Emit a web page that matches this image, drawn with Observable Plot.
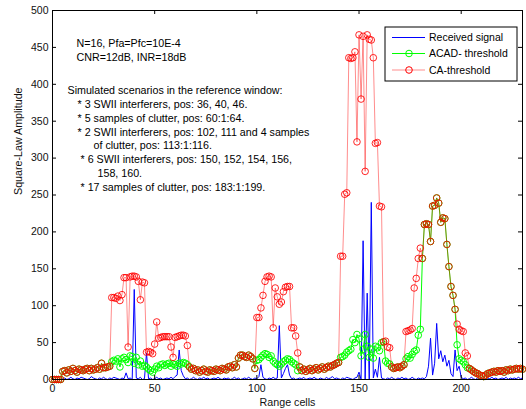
<!DOCTYPE html>
<html><head><meta charset="utf-8">
<script src="https://cdn.jsdelivr.net/npm/d3@7"></script>
<script src="https://cdn.jsdelivr.net/npm/@observablehq/plot@0.6"></script>
<style>
body{margin:0;background:#fff;}
#chart{position:relative;width:526px;height:409px;}
</style></head><body><div id="chart"></div>
<script>
// Range cells 0..230
const received = [
0,0,0,0,0,
1,2,0,1,3,1,0,2,1,3,
2,1,0,1,4,2,1,0,2,1,
3,1,0,2,1,3,2,1,0,2,1,
9,1,2,0,122,
2,1,3,0,1,36,1,2,0,1,
3,1,2,0,1,2,1,3,1,4,
6,40,12,5,1,2,0,1,3,1,
0,2,1,3,1,2,0,1,2,1,
3,1,0,2,1,2,0,1,3,1,
2,0,1,2,1,3,1,0,2,1,4,
20,3,1,0,2,1,3,1,2,
73,2,8,15,20,6,1,2,0,1,
2,1,3,0,1,2,1,3,1,0,
2,1,0,3,1,2,4,1,2,1,
0,2,1,3,2,1,0,2,3,
10,0,188,0,117,0,240,2,14,3,30,2,
1,0,2,1,3,1,0,2,1,
3,1,2,0,1,3,1,0,2,1,2,1,
4,18,56,6,22,76,28,39,24,33,18,26,8,4,40,12,18,3,
1,2,0,1,3,1,0,2,1,2,
1,0,2,1,3,1,2,0,1,2,
1,3,0,2,1,2,1,3,1,2
];
const acadThreshold = [
0,0,0,0,0, 11,12,9,13,11, 15,12,10,14,13, 12,14,15,12,15, 13,14,16,14,22, 16,16,17,18,
24,26,25,28,17, 28,30,27,23,32, 31,22,30,20,25, 18,19,17,14,12, 10,14,18,16,20,
21,19,21,22,18, 21,20,18,22,21, 23,22,20,17,14, 15,12,13,10,12, 14,11,10,13,12,
11,14,13,12,15, 14,13,17,18,16, 20,17,29,33,33, 31,30,33,31,28, 15,26,27,30,33,
35,34,30,32,25, 22,20,18,21,24, 26,28,27,24,22, 20,12,17,12,14, 11,13,15,12,14,
16,13,15,17,14, 16,18,17,19,20, 22,23,30,31,33, 37,39,41,54,50, 61,55,32,41,61,
45,30,41,29,45, 43,39,50,51,25, 22,21,17,15,16, 17,16,18,20,28, 31,29,34,38,40,
60,68,164,210,211, 210,187,235,236,246, 239,213,219,218,183, 153,126,114,95,47,
28,26,24,20,16, 15,13,11,9,8, 6,5,4,6,8, 9,10,11,10,12, 11,12,10,13,12,
14,13,14,15,14, 15,14
];
const caThreshold = [
0,0,0,0,0, 11,12,9,13,11, 15,12,10,14,13, 12,14,15,12,15, 13,14,16,14,22, 16,16,17,18,
111,111,110,113,107, 115,138,138,44,139, 140,140,139,133,108, 132,131,37,38,37, 35,48,78,56,57,
58,58,58,58,44, 30,57,58,59,60, 60,59,46,17,14, 15,12,13,10,12, 14,11,10,13,12,
11,14,13,12,15, 14,13,17,18,16, 20,17,29,33,33, 31,30,33,31,28, 15,84,84,97,114,
133,139,140,139,70, 124,112,102,105,119, 125,126,126,70,70, 59,36,17,12,14, 11,13,15,12,14,
16,13,15,17,14, 16,18,17,19,20, 22,23,167,167,251, 253,436,435,436,444, 322,467,380,465,282,
467,461,460,436,320, 321,235,234,51,52, 44,43,17,15,16, 17,16,18,20,65, 66,67,69,124,137,
164,178,164,210,211, 210,187,235,236,246, 239,213,219,218,183, 153,126,114,95,75,
68,66,65,36,32, 15,13,11,9,8, 6,5,4,6,8, 9,10,11,10,12, 11,12,10,13,12,
14,13,14,15,14, 15,14
];
const xTicks = [0, 50, 100, 150, 200];
const yTicks = [0, 50, 100, 150, 200, 250, 300, 350, 400, 450, 500];
const seriesNames = ["Received signal", "ACAD- threshold", "CA-threshold"];
const noteLines = [
  "N=16, Pfa=Pfc=10E-4",
  "CNR=12dB, INR=18dB",
  "Simulated scenarios in the reference window:",
  "* 3 SWII interferers, pos: 36, 40, 46.",
  "* 5 samples of clutter, pos: 60:1:64.",
  "* 2 SWII interferers, pos: 102, 111 and 4 samples",
  "of clutter, pos: 113:1:116.",
  "* 6 SWII interferers, pos: 150, 152, 154, 156,",
  "158, 160.",
  "* 17 samples of clutter, pos: 183:1:199."
];
const xLabel = "Range cells";
const yLabel = "Square-Law Amplitude";

const toRows = arr => arr.map((v, i) => ({cell: i, v}));
const rowsRx = toRows(received), rowsAcad = toRows(acadThreshold), rowsCa = toRows(caThreshold);

// layout of the note lines (pixel offsets from the plot's top-left corner)
const noteLayout = [[24,33],[24,47],[15,80],[25,94],[25,108],[25,122],[41,135],[28,149],[45,163],[28,177]];

const FONT = "'Liberation Sans', Arial, Helvetica, sans-serif";
const BLUE = "#0000ff", GREEN = "#00ff00", RED = "#ff0000";

const plot = Plot.plot({
  width: 526, height: 409,
  marginLeft: 52, marginRight: 4, marginTop: 10, marginBottom: 30,
  x: {domain: [0, 230]},
  y: {domain: [0, 500]},
  style: {fontFamily: FONT, fontSize: "10.5px", background: "white", color: "#111"},
  marks: [
    Plot.line(rowsRx, {x: "cell", y: "v", stroke: BLUE, strokeWidth: 1}),
    Plot.line(rowsAcad, {x: "cell", y: "v", stroke: GREEN, strokeWidth: 1}),
    Plot.dot(rowsAcad, {x: "cell", y: "v", r: 3.3, stroke: GREEN, strokeWidth: 1, fill: "none"}),
    Plot.line(rowsCa, {x: "cell", y: "v", stroke: RED, strokeOpacity: 0.45, strokeWidth: 1}),
    Plot.dot(rowsCa, {x: "cell", y: "v", r: 3.3, stroke: RED, strokeOpacity: 0.85, strokeWidth: 1, fill: "none"}),
    Plot.frame({stroke: "#000", strokeWidth: 1}),
    Plot.ruleY(yTicks, {insetRight: 466, stroke: "#000"}),
    Plot.ruleY(yTicks, {insetLeft: 466, stroke: "#000"}),
    Plot.ruleX(xTicks, {insetTop: 365, stroke: "#000"}),
    Plot.ruleX(xTicks, {insetBottom: 365, stroke: "#000"}),
    Plot.axisX(xTicks, {tickSize: 0, tickPadding: 5, fontSize: 10.5, label: null}),
    Plot.axisY(yTicks, {tickSize: 0, tickPadding: 4, fontSize: 10.5, label: null}),
    Plot.text([xLabel], {frameAnchor: "bottom", dy: 23, lineAnchor: "middle", fontSize: 10.7}),
    Plot.text([yLabel], {frameAnchor: "left", dx: -34, rotate: -90, lineAnchor: "middle", fontSize: 10.7}),
    ...noteLines.map((t, i) => Plot.text([t], {
      frameAnchor: "top-left", dx: noteLayout[i][0], dy: noteLayout[i][1],
      textAnchor: "start", lineAnchor: "middle", fontSize: 10.7, fill: "#000"
    }))
  ]
});
document.getElementById("chart").appendChild(plot);

// legend inside the axes, top right
const svg = d3.select(plot);
const lg = svg.append("g").attr("font-family", FONT).attr("font-size", 10.5).attr("text-anchor", "start");
lg.append("rect").attr("x", 385).attr("y", 27).attr("width", 132).attr("height", 54)
  .attr("fill", "white").attr("stroke", "#000").attr("stroke-width", 1);
const legendStyles = [
  {color: BLUE, marker: false, opacity: 1},
  {color: GREEN, marker: true, opacity: 1},
  {color: RED, marker: true, opacity: 0.45}
];
const rowY = [37.5, 53.5, 70];
seriesNames.forEach((name, i) => {
  const s = legendStyles[i];
  lg.append("line").attr("x1", 392).attr("x2", 425).attr("y1", rowY[i]).attr("y2", rowY[i])
    .attr("stroke", s.color).attr("stroke-opacity", s.opacity).attr("stroke-width", 1);
  if (s.marker) lg.append("circle").attr("cx", 409).attr("cy", rowY[i]).attr("r", 3.3)
    .attr("fill", "none").attr("stroke", s.color);
  lg.append("text").attr("x", 429).attr("y", rowY[i]).attr("dy", "0.35em")
    .attr("text-anchor", "start").attr("fill", "#000").text(name);
});
</script></body></html>
